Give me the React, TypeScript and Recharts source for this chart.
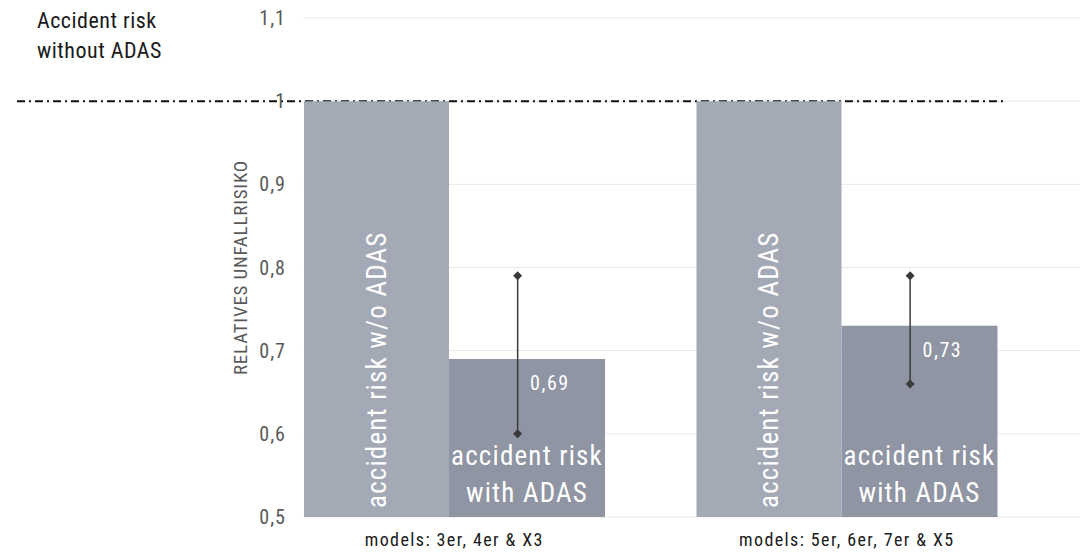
import React from "react"
import {
  BarChart,
  Bar,
  XAxis,
  YAxis,
  CartesianGrid,
  ReferenceLine,
  LabelList,
} from "recharts"

const categories = ["models: 3er, 4er & X3", "models: 5er, 6er, 7er & X5"]
const riskWithoutAdas = [1, 1]
const riskWithAdas = [0.69, 0.73]
const errorLow = [0.6, 0.66]
const errorHigh = [0.79, 0.79]
const yTicks = [0.5, 0.6, 0.7, 0.8, 0.9, 1, 1.1]
const Y_MIN = 0.5

const data = categories.map((name, i) => ({
  name,
  without: riskWithoutAdas[i],
  with: riskWithAdas[i],
  low: errorLow[i],
  high: errorHigh[i],
}))

const FONT = "'Roboto Condensed', 'Liberation Sans Narrow', 'DejaVu Sans Condensed', Roboto, sans-serif"

const fmt = (v: number) => String(v).replace(".", ",")

// bar with its own error whisker (diamond ends, no caps)
function WithAdasShape(props: any) {
  const { x, y, width, height, fill, payload } = props
  const perUnit = height / (payload.with - Y_MIN)
  const base = y + height
  const yHi = base - (payload.high - Y_MIN) * perUnit
  const yLo = base - (payload.low - Y_MIN) * perUnit
  const ex = x + width * 0.44
  const d = 4.5
  const diamond = (cy: number) =>
    `M${ex},${cy - d} L${ex + d},${cy} L${ex},${cy + d} L${ex - d},${cy} Z`
  return (
    <g>
      <rect x={x} y={y} width={width} height={height} fill={fill} />
      <line x1={ex} x2={ex} y1={yHi} y2={yLo} stroke="#3a3a3a" strokeWidth={1.5} />
      <path d={diamond(yHi)} fill="#3a3a3a" />
      <path d={diamond(yLo)} fill="#3a3a3a" />
    </g>
  )
}

function VerticalLabel(props: any) {
  const { x, y, width, height } = props
  const cx = x + width / 2
  const by = y + height - 9
  return (
    <text
      x={cx}
      y={by}
      transform={`rotate(-90 ${cx} ${by})`}
      fill="#fff"
      fontSize={27}
      letterSpacing={1.2}
      fontFamily={FONT}
      dominantBaseline="central"
    >
      accident risk w/o ADAS
    </text>
  )
}

function WithAdasLabel(props: any) {
  const { x, y, width, height, value } = props
  const cx = x + width / 2
  const base = y + height
  return (
    <g fill="#fff" fontFamily={FONT}>
      <text x={x + width * 0.52} y={y + 31} fontSize={20} letterSpacing={1.5}>
        {fmt(value)}
      </text>
      <text x={cx} y={base - 52} fontSize={27} letterSpacing={1.2} textAnchor="middle">
        accident risk
      </text>
      <text x={cx} y={base - 15} fontSize={27} letterSpacing={1.2} textAnchor="middle">
        with ADAS
      </text>
    </g>
  )
}

export default function App() {
  return (
    <div style={{ position: "absolute", left: 0, top: 0, width: 1089, height: 555, fontFamily: FONT, background: "#fff" }}>
      <div
        style={{
          position: "absolute",
          left: 37,
          top: 6,
          fontSize: 22,
          letterSpacing: 0.5,
          lineHeight: "30px",
          color: "#1a1a1a",
          zIndex: 2,
        }}
      >
        Accident risk
        <br />
        without ADAS
      </div>
      <BarChart
        width={1089}
        height={555}
        data={data}
        margin={{ top: 18, right: 46, left: 0, bottom: 0 }}
        barGap={0}
      >
        <CartesianGrid vertical={false} stroke="#e8e8e8" x={303} width={777} />
        <ReferenceLine
          y={1}
          ifOverflow="visible"
          zIndex={100}
          shape={(p: any) => (
            <line
              x1={17}
              x2={1003}
              y1={p.y1}
              y2={p.y1}
              stroke="#111"
              strokeWidth={2}
              strokeDasharray="8 4 2 4"
            />
          )}
        />
        <YAxis
          width={258}
          domain={[0.5, 1.1]}
          ticks={yTicks}
          axisLine={false}
          tickLine={false}
          tickSize={0}
          tickMargin={0}
          tickFormatter={fmt}
          tick={{ fill: "#595959", fontSize: 20, letterSpacing: 1, dx: 28 }}
          label={{
            value: "RELATIVES UNFALLRISIKO",
            angle: -90,
            position: "center",
            dx: 111,
            fill: "#595959",
            fontSize: 19,
            letterSpacing: 0.8,
          }}
        />
        <XAxis
          dataKey="name"
          axisLine={false}
          tickLine={false}
          height={38}
          tickSize={0}
          tickMargin={16}
          tick={{ fill: "#1a1a1a", fontSize: 18, letterSpacing: 1.4 }}
        />
        <Bar dataKey="without" fill="#a4a9b6" barSize={145} isAnimationActive={false}>
          <LabelList dataKey="without" content={VerticalLabel} />
        </Bar>
        <Bar
          dataKey="with"
          fill="#8f95a2"
          barSize={156}
          isAnimationActive={false}
          shape={WithAdasShape}
        >
          <LabelList dataKey="with" content={WithAdasLabel} />
        </Bar>
      </BarChart>
    </div>
  )
}
